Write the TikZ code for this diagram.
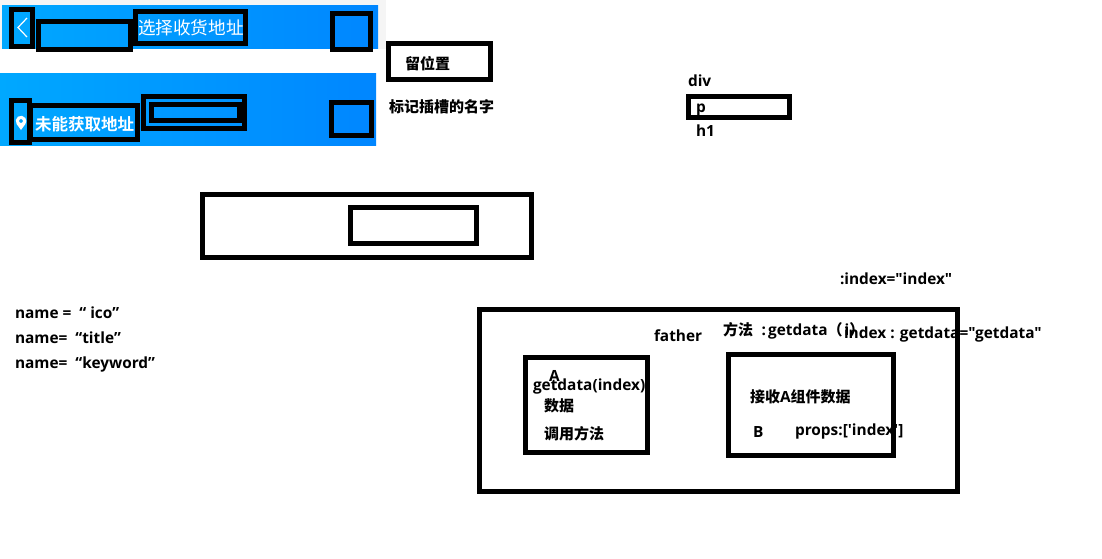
\documentclass[tikz,border=0pt]{standalone}
\usepackage{fontspec}
\newfontfamily\latinf{Open Sans}
\newfontfamily\cjkbold{Noto Sans CJK SC Bold}
\newfontfamily\cjkreg{Noto Sans CJK SC}
\newcommand{\zh}[1]{{\fontsize{11.25pt}{13pt}\selectfont\cjkbold #1}}
\begin{document}
\begin{tikzpicture}[x=0.75pt,y=-0.75pt,
  blk/.style={draw=black,line width=3.75pt,miter limit=10},
  lbl/.style={anchor=base west,inner sep=0pt,outer sep=0pt,font=\fontsize{11.55pt}{13pt}\selectfont\latinf\bfseries,text=black},
  ttl/.style={anchor=base west,inner sep=0pt,outer sep=0pt,text=white}]
\definecolor{barl}{HTML}{00A8FF}
\definecolor{barr}{HTML}{0086FF}
\useasboundingbox (0,0) rectangle (1102,558);
\fill[white] (0,0) rectangle (1102,558);
% top bar
\fill[black!4] (0,0) rectangle (386,50);
\shade[left color=barl,right color=barr] (2,5) rectangle (378,49);
\fill[white] (0,49) rectangle (386,51);
\draw[blk] (11.5,9.5) rectangle (32.5,46.5);
\draw[blk] (38.5,21.5) rectangle (130.5,49.5);
\draw[blk] (135.5,11.5) rectangle (245.5,43.5);
\draw[blk] (332.5,13.5) rectangle (370.5,49.5);
\draw[white,line width=0.9pt] (27,18) -- (18,27.5) -- (27,37);
\node[ttl,font=\fontsize{13.2pt}{15pt}\selectfont\cjkreg] (t1) at (138,34) {选择收货地址};
% second bar
\shade[left color=barl,right color=barr] (0,73) rectangle (376,145.7);
\draw[blk] (11.5,100.5) rectangle (29.5,142.5);
\draw[blk] (30,105.5) rectangle (137.5,139.5);
\draw[blk] (143.5,96.5) rectangle (244.5,128.5);
\draw[blk] (151.5,104.5) rectangle (239.5,120.5);
\draw[blk] (331.5,102.5) rectangle (371.5,135.5);
\fill[white,even odd rule] (21,130) -- (16.66,124.04) arc[start angle=145,end angle=395,radius=5.3] -- cycle (21,121) circle[radius=2];
\node[ttl,font=\fontsize{12.4pt}{15pt}\selectfont\cjkbold] (t2) at (35,130) {未能获取地址};
% boxes
\draw[blk] (388.5,43.5) rectangle (490.5,79.5);
\draw[blk] (688.5,96.5) rectangle (789.5,117.5);
\draw[blk] (202.5,194.5) rectangle (531.5,257.5);
\draw[blk] (350.5,207.5) rectangle (476.5,243.5);
\draw[blk] (479.5,309.5) rectangle (957.5,491.5);
\draw[blk] (525.5,357.5) rectangle (647.5,452.5);
\draw[blk] (728.5,354.5) rectangle (893.5,455.5);
% labels
\node[lbl] (slot) at (405,69) {\zh{留位置}};
\node[lbl] (mark) at (389,112) {\zh{标记插槽的名字}};
\node[lbl] (div) at (688,86) {div};
\node[lbl] (p) at (696,112) {p};
\node[lbl] (h) at (696,136) {h1};
\node[lbl] (n1) at (15,318) {name =~~“ ico”};
\node[lbl] (n2) at (15,343) {name=~~“title”};
\node[lbl] (n3) at (15,368) {name=~~“keyword”};
\node[lbl] (ix) at (840,284) {:index="index"};
\node[lbl] (fa) at (654,341) {father};
\node[lbl] (me) at (723,335) {\zh{方法}\hspace{6.5pt}:\hspace{1.5pt}getdata\zh{（}\hspace{1.5pt}i\zh{）}};
\node[lbl] (gd) at (844,338) {index : getdata="getdata"};
\node[lbl] (a) at (549,381) {A};
\node[lbl] (ga) at (533,390) {getdata(index)};
\node[lbl] (sj) at (544,411) {\zh{数据}};
\node[lbl] (dy) at (544,439) {\zh{调用方法}};
\node[lbl] (js) at (750,402) {\zh{接收}A\zh{组件数据}};
\node[lbl] (b) at (753,437) {B};
\node[lbl] (pr) at (795,435) {props:['index']};
\end{tikzpicture}
\end{document}
